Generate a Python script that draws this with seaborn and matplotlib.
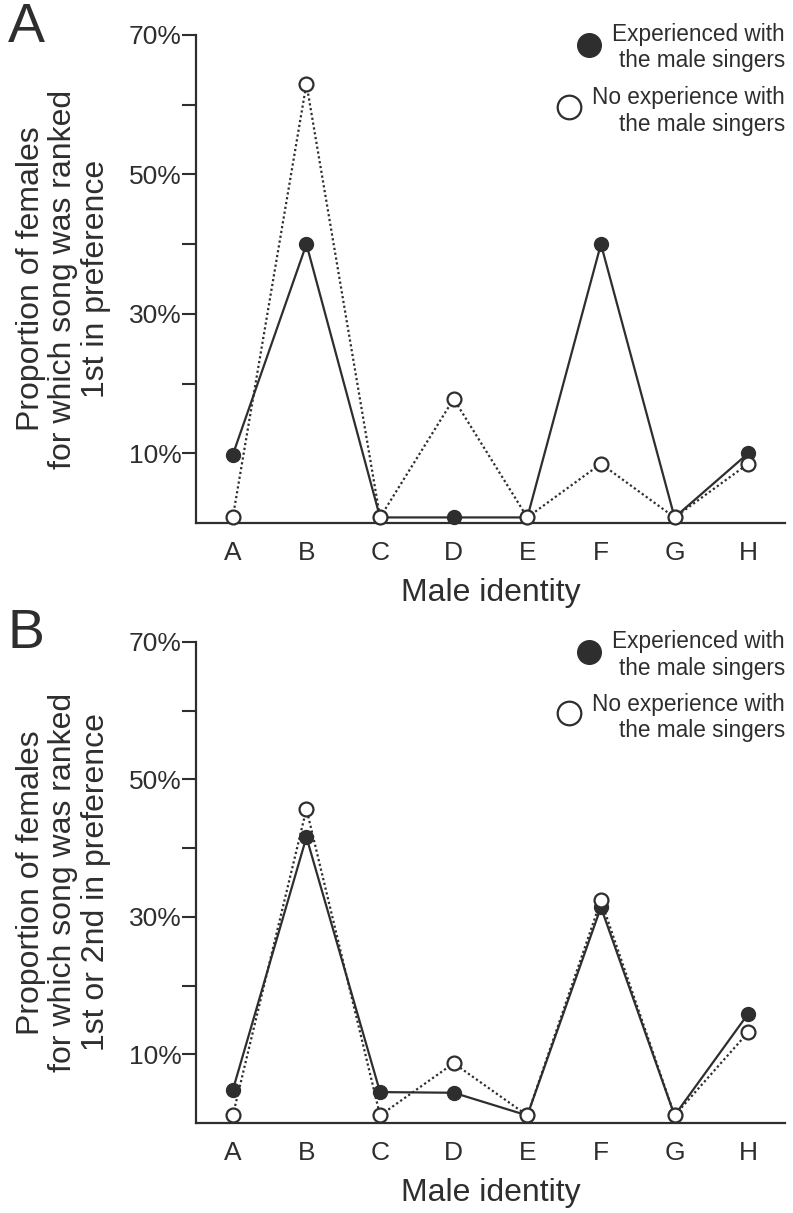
import matplotlib
matplotlib.use('Agg')
import matplotlib.pyplot as plt
import seaborn as sns
import pandas as pd
from matplotlib.ticker import FixedLocator, FuncFormatter

# male identities on the x axis
males = ['A', 'B', 'C', 'D', 'E', 'F', 'G', 'H']

# panel A: ranked 1st in preference (%)
exp_first = [9.8, 40.0, 0.8, 0.8, 0.8, 40.0, 0.8, 10.0]
noexp_first = [0.8, 63.0, 0.8, 17.8, 0.8, 8.5, 0.8, 8.5]

# panel B: ranked 1st or 2nd in preference (%)
exp_second = [4.8, 41.6, 4.5, 4.4, 1.1, 31.4, 1.1, 15.9]
noexp_second = [1.1, 45.7, 1.1, 8.7, 1.1, 32.4, 1.1, 13.2]

ylabels = ['Proportion of females\nfor which song was ranked\n1st in preference',
           'Proportion of females\nfor which song was ranked\n1st or 2nd in preference']
panel_letters = ['A', 'B']
legend_labels = ['Experienced with\nthe male singers', 'No experience with\nthe male singers']

dark = '#2e2e2e'

sns.set_style('ticks')
plt.rcParams['font.family'] = ['Liberation Sans', 'DejaVu Sans']
plt.rcParams['text.color'] = dark
plt.rcParams['axes.labelcolor'] = dark
plt.rcParams['xtick.color'] = dark
plt.rcParams['ytick.color'] = dark

fig = plt.figure(figsize=(7.93, 12.13), dpi=100)
W, H = 793, 1213


def make_axes(top_px, bottom_px):
    left, right = 196, 785
    return fig.add_axes([left / W, 1 - bottom_px / H, (right - left) / W, (bottom_px - top_px) / H])


ax_a = make_axes(35, 523)
ax_b = make_axes(642, 1123)

panels = [(ax_a, exp_first, noexp_first), (ax_b, exp_second, noexp_second)]

for i, (ax, exp, noexp) in enumerate(panels):
    df = pd.DataFrame({'male': males, 'exp': exp, 'noexp': noexp})
    sns.lineplot(data=df, x='male', y='exp', ax=ax, color=dark, linestyle='-', linewidth=1.6,
                 marker='o', markersize=10, markerfacecolor=dark, markeredgecolor=dark,
                 markeredgewidth=1.0, errorbar=None, sort=False, zorder=3, clip_on=False)
    sns.lineplot(data=df, x='male', y='noexp', ax=ax, color=dark, linestyle=(0, (1, 1.2)),
                 linewidth=1.6, marker='o', markersize=10, markerfacecolor='white',
                 markeredgecolor=dark, markeredgewidth=1.6, errorbar=None, sort=False,
                 zorder=4, clip_on=False)

    ax.set_xlim(-0.5, 7.5)
    ax.set_ylim(0, 70)
    ax.yaxis.set_major_locator(FixedLocator([10, 30, 50, 70]))
    ax.yaxis.set_minor_locator(FixedLocator([20, 40, 60]))
    ax.yaxis.set_major_formatter(FuncFormatter(lambda v, p: f'{v:.0f}%'))
    ax.tick_params(axis='y', which='both', length=10, width=1.5, direction='out',
                   labelsize=19, pad=0.5)
    ax.tick_params(axis='x', length=0, labelsize=19, pad=13)
    sns.despine(ax=ax)
    for side in ['left', 'bottom']:
        ax.spines[side].set_linewidth(1.6)
        ax.spines[side].set_color(dark)

    ax.set_xlabel('Male identity', fontsize=23, labelpad=9)
    ax.set_ylabel(ylabels[i], fontsize=23, linespacing=1.1)
    ax.yaxis.set_label_coords(-0.145, 0.5)

    # legend drawn by hand: right-aligned text with the marker just left of it
    ax.text(1.0, 1.025, legend_labels[0], transform=ax.transAxes, ha='right', va='top',
            fontsize=16.3, multialignment='right', linespacing=1.2)
    ax.text(1.0, 0.895, legend_labels[1], transform=ax.transAxes, ha='right', va='top',
            fontsize=16.3, multialignment='right', linespacing=1.2)
    ax.plot([0.667], [0.98], transform=ax.transAxes, marker='o', markersize=17,
            color=dark, clip_on=False, linestyle='none')
    ax.plot([0.633], [0.853], transform=ax.transAxes, marker='o', markersize=17,
            markerfacecolor='white', markeredgecolor=dark, markeredgewidth=1.6,
            clip_on=False, linestyle='none')

fig.text(8 / W, 1 - 2 / H, panel_letters[0], fontsize=40, ha='left', va='top')
fig.text(8 / W, 1 - 608 / H, panel_letters[1], fontsize=40, ha='left', va='top')

fig.savefig('out.png', dpi=100)
